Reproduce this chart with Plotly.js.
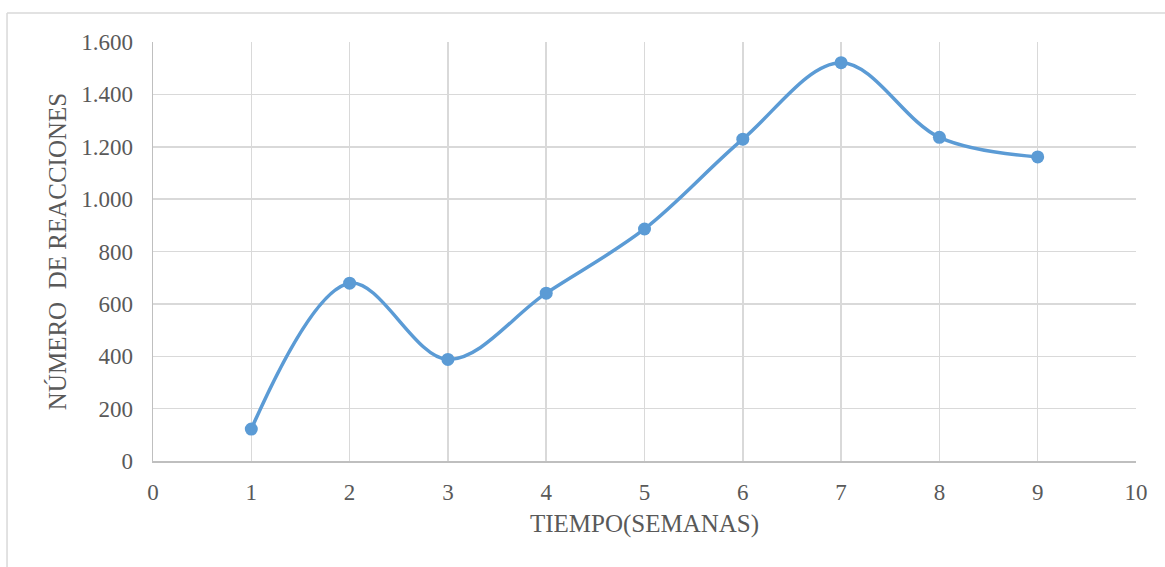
<!DOCTYPE html>
<html>
<head>
<meta charset="utf-8">
<script src="https://cdn.plot.ly/plotly-3.0.1.min.js"></script>
<style>html,body{margin:0;padding:0;background:#fff}#chart{width:1165px;height:567px}</style>
</head>
<body>
<div id="chart"></div>
<script>
const semanas = [1, 2, 3, 4, 5, 6, 7, 8, 9];
const reacciones = [122, 679, 388, 641, 886, 1229, 1521, 1236, 1161];
const xTickVals = [0, 1, 2, 3, 4, 5, 6, 7, 8, 9, 10];
const yTickVals = [0, 200, 400, 600, 800, 1000, 1200, 1400, 1600];
const yTickText = ["0", "200", "400", "600", "800", "1.000", "1.200", "1.400", "1.600"];

const fam = 'Liberation Serif, Times New Roman, serif';
const tickFont = {family: fam, size: 23, color: '#595959'};
const titleFont = {family: fam, size: 25, color: '#595959'};

const trace = {
  x: semanas, y: reacciones, type: 'scatter', mode: 'lines+markers',
  line: {color: '#5b9bd5', width: 3.5, shape: 'spline', smoothing: 1},
  marker: {color: '#5b9bd5', size: 13},
  hoverinfo: 'x+y'
};

const layout = {
  width: 1165, height: 567,
  margin: {l: 153, r: 29, t: 42, b: 106},
  paper_bgcolor: '#fff', plot_bgcolor: '#fff',
  showlegend: false,
  font: tickFont,
  xaxis: {
    range: [0, 10], tickvals: xTickVals, ticktext: xTickVals.map(String),
    showgrid: true, gridcolor: '#d9d9d9', gridwidth: 1.5,
    zeroline: false, showline: true, linecolor: '#bfbfbf', linewidth: 1.5,
    ticks: '', ticklabelstandoff: 10, tickfont: tickFont,
    title: {text: 'TIEMPO(SEMANAS)', font: titleFont, standoff: 10}
  },
  yaxis: {
    range: [0, 1600], tickvals: yTickVals, ticktext: yTickText,
    showgrid: true, gridcolor: '#d9d9d9', gridwidth: 1.5,
    zeroline: false, showline: true, linecolor: '#bfbfbf', linewidth: 1.5,
    ticks: '', ticklabelstandoff: 14, tickfont: tickFont,
    title: {text: 'NÚMERO  DE REACCIONES', font: titleFont, standoff: 7}
  },
  shapes: [
    {type: 'line', xref: 'paper', yref: 'paper', x0: -0.1485, x1: 1.04, y0: 1.0692, y1: 1.0692,
     line: {color: '#d9d9d9', width: 1.5}},
    {type: 'line', xref: 'paper', yref: 'paper', x0: -0.1485, x1: -0.1485, y0: 1.0692, y1: -0.3,
     line: {color: '#d9d9d9', width: 1.5}}
  ]
};

Plotly.newPlot('chart', [trace], layout, {displayModeBar: false, staticPlot: true});
</script>
</body>
</html>
